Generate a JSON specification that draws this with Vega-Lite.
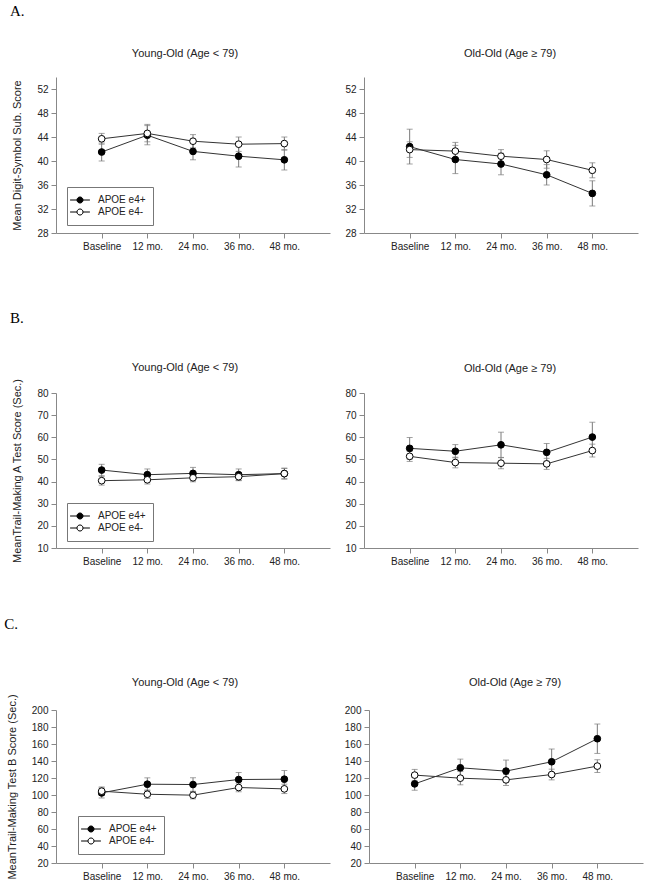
{
  "$schema": "https://vega.github.io/schema/vega-lite/v6.json",
  "background": "white",
  "padding": {"left": 4, "top": 4, "right": 4, "bottom": 4},
  "config": {
    "font": "Liberation Sans",
    "view": {"stroke": null},
    "axis": {"domainColor": "#888", "tickColor": "#888", "tickSize": 5, "labelFont": "Liberation Sans", "labelFontSize": 10, "labelColor": "#222", "titleFont": "Liberation Sans", "titleFontSize": 11, "titleFontWeight": "normal", "titleColor": "#222", "grid": false, "labelPadding": 3, "labelOverlap": false},
    "axisY": {"titlePadding": 14, "labelOverlap": false, "tickCount": 30},
    "axisX": {"labelAngle": 0, "title": null},
    "title": {"font": "Liberation Sans", "fontSize": 11, "fontWeight": "normal", "color": "#222", "offset": 18},
    "legend": {"labelFont": "Liberation Sans", "labelFontSize": 10, "labelColor": "#222"}
  },
  "datasets": {
    "dsA": [
      {"age": "young", "time": "Baseline", "group": "APOE e4+", "mean": 41.5, "lo": 40.0, "hi": 43.0},
      {"age": "young", "time": "12 mo.", "group": "APOE e4+", "mean": 44.3, "lo": 42.7, "hi": 45.9},
      {"age": "young", "time": "24 mo.", "group": "APOE e4+", "mean": 41.6, "lo": 40.2, "hi": 43.0},
      {"age": "young", "time": "36 mo.", "group": "APOE e4+", "mean": 40.8, "lo": 39.0, "hi": 42.6},
      {"age": "young", "time": "48 mo.", "group": "APOE e4+", "mean": 40.2, "lo": 38.5, "hi": 41.9},
      {"age": "young", "time": "Baseline", "group": "APOE e4-", "mean": 43.7, "lo": 42.8, "hi": 44.6},
      {"age": "young", "time": "12 mo.", "group": "APOE e4-", "mean": 44.6, "lo": 43.2, "hi": 46.1},
      {"age": "young", "time": "24 mo.", "group": "APOE e4-", "mean": 43.3, "lo": 42.2, "hi": 44.4},
      {"age": "young", "time": "36 mo.", "group": "APOE e4-", "mean": 42.8, "lo": 41.6, "hi": 44.0},
      {"age": "young", "time": "48 mo.", "group": "APOE e4-", "mean": 42.9, "lo": 41.8, "hi": 44.0},
      {"age": "old", "time": "Baseline", "group": "APOE e4+", "mean": 42.4, "lo": 39.5, "hi": 45.3},
      {"age": "old", "time": "12 mo.", "group": "APOE e4+", "mean": 40.25, "lo": 37.9, "hi": 42.6},
      {"age": "old", "time": "24 mo.", "group": "APOE e4+", "mean": 39.5, "lo": 37.7, "hi": 41.3},
      {"age": "old", "time": "36 mo.", "group": "APOE e4+", "mean": 37.7, "lo": 36.0, "hi": 39.4},
      {"age": "old", "time": "48 mo.", "group": "APOE e4+", "mean": 34.6, "lo": 32.5, "hi": 36.7},
      {"age": "old", "time": "Baseline", "group": "APOE e4-", "mean": 41.9, "lo": 40.6, "hi": 43.2},
      {"age": "old", "time": "12 mo.", "group": "APOE e4-", "mean": 41.65, "lo": 40.3, "hi": 43.1},
      {"age": "old", "time": "24 mo.", "group": "APOE e4-", "mean": 40.8, "lo": 39.7, "hi": 41.9},
      {"age": "old", "time": "36 mo.", "group": "APOE e4-", "mean": 40.25, "lo": 38.8, "hi": 41.7},
      {"age": "old", "time": "48 mo.", "group": "APOE e4-", "mean": 38.45, "lo": 37.2, "hi": 39.7}
    ],
    "dsB": [
      {"age": "young", "time": "Baseline", "group": "APOE e4+", "mean": 45.2, "lo": 42.6, "hi": 47.8},
      {"age": "young", "time": "12 mo.", "group": "APOE e4+", "mean": 43.1, "lo": 40.5, "hi": 45.7},
      {"age": "young", "time": "24 mo.", "group": "APOE e4+", "mean": 43.7, "lo": 41.0, "hi": 46.4},
      {"age": "young", "time": "36 mo.", "group": "APOE e4+", "mean": 43.1, "lo": 40.5, "hi": 45.7},
      {"age": "young", "time": "48 mo.", "group": "APOE e4+", "mean": 43.6, "lo": 41.1, "hi": 46.1},
      {"age": "young", "time": "Baseline", "group": "APOE e4-", "mean": 40.4, "lo": 38.4, "hi": 42.4},
      {"age": "young", "time": "12 mo.", "group": "APOE e4-", "mean": 40.8, "lo": 38.9, "hi": 42.7},
      {"age": "young", "time": "24 mo.", "group": "APOE e4-", "mean": 41.7, "lo": 39.9, "hi": 43.5},
      {"age": "young", "time": "36 mo.", "group": "APOE e4-", "mean": 42.2, "lo": 40.4, "hi": 44.0},
      {"age": "young", "time": "48 mo.", "group": "APOE e4-", "mean": 43.6, "lo": 41.3, "hi": 45.9},
      {"age": "old", "time": "Baseline", "group": "APOE e4+", "mean": 55.0, "lo": 50.1, "hi": 59.9},
      {"age": "old", "time": "12 mo.", "group": "APOE e4+", "mean": 53.7, "lo": 50.7, "hi": 56.7},
      {"age": "old", "time": "24 mo.", "group": "APOE e4+", "mean": 56.6, "lo": 50.9, "hi": 62.3},
      {"age": "old", "time": "36 mo.", "group": "APOE e4+", "mean": 53.2, "lo": 49.2, "hi": 57.2},
      {"age": "old", "time": "48 mo.", "group": "APOE e4+", "mean": 60.1, "lo": 53.4, "hi": 66.8},
      {"age": "old", "time": "Baseline", "group": "APOE e4-", "mean": 51.4, "lo": 49.1, "hi": 53.7},
      {"age": "old", "time": "12 mo.", "group": "APOE e4-", "mean": 48.6, "lo": 46.2, "hi": 51.0},
      {"age": "old", "time": "24 mo.", "group": "APOE e4-", "mean": 48.3, "lo": 45.8, "hi": 50.8},
      {"age": "old", "time": "36 mo.", "group": "APOE e4-", "mean": 48.0, "lo": 45.5, "hi": 50.5},
      {"age": "old", "time": "48 mo.", "group": "APOE e4-", "mean": 54.0, "lo": 51.1, "hi": 56.9}
    ],
    "dsC": [
      {"age": "young", "time": "Baseline", "group": "APOE e4+", "mean": 102.5, "lo": 96.5, "hi": 108.5},
      {"age": "young", "time": "12 mo.", "group": "APOE e4+", "mean": 112.7, "lo": 105.2, "hi": 120.2},
      {"age": "young", "time": "24 mo.", "group": "APOE e4+", "mean": 112.3, "lo": 104.3, "hi": 120.3},
      {"age": "young", "time": "36 mo.", "group": "APOE e4+", "mean": 118.2, "lo": 109.9, "hi": 126.5},
      {"age": "young", "time": "48 mo.", "group": "APOE e4+", "mean": 118.6, "lo": 108.4, "hi": 128.8},
      {"age": "young", "time": "Baseline", "group": "APOE e4-", "mean": 104.5, "lo": 99.5, "hi": 109.5},
      {"age": "young", "time": "12 mo.", "group": "APOE e4-", "mean": 100.9, "lo": 95.9, "hi": 105.9},
      {"age": "young", "time": "24 mo.", "group": "APOE e4-", "mean": 99.8, "lo": 95.4, "hi": 104.2},
      {"age": "young", "time": "36 mo.", "group": "APOE e4-", "mean": 108.8, "lo": 103.8, "hi": 113.8},
      {"age": "young", "time": "48 mo.", "group": "APOE e4-", "mean": 107.2, "lo": 101.7, "hi": 112.7},
      {"age": "old", "time": "Baseline", "group": "APOE e4+", "mean": 113.1, "lo": 105.6, "hi": 120.6},
      {"age": "old", "time": "12 mo.", "group": "APOE e4+", "mean": 132.0, "lo": 121.8, "hi": 142.2},
      {"age": "old", "time": "24 mo.", "group": "APOE e4+", "mean": 128.1, "lo": 115.1, "hi": 141.1},
      {"age": "old", "time": "36 mo.", "group": "APOE e4+", "mean": 139.1, "lo": 124.1, "hi": 154.1},
      {"age": "old", "time": "48 mo.", "group": "APOE e4+", "mean": 166.2, "lo": 148.9, "hi": 183.5},
      {"age": "old", "time": "Baseline", "group": "APOE e4-", "mean": 123.4, "lo": 116.7, "hi": 130.1},
      {"age": "old", "time": "12 mo.", "group": "APOE e4-", "mean": 119.8, "lo": 112.0, "hi": 127.6},
      {"age": "old", "time": "24 mo.", "group": "APOE e4-", "mean": 117.8, "lo": 111.2, "hi": 124.4},
      {"age": "old", "time": "36 mo.", "group": "APOE e4-", "mean": 124.1, "lo": 117.8, "hi": 130.4},
      {"age": "old", "time": "48 mo.", "group": "APOE e4-", "mean": 134.0, "lo": 126.5, "hi": 141.5}
    ]
  },
  "spacing": 50,
  "vconcat": [
    {
      "spacing": 59,
      "vconcat": [
        {
          "title": {"text": "A.", "anchor": "start", "font": "Liberation Serif", "fontSize": 15, "fontWeight": "normal", "color": "#000", "offset": 29, "dx": -2},
          "spacing": 14,
          "resolve": {"scale": {"fill": "independent"}, "legend": {"fill": "independent"}},
          "hconcat": [
            {
              "width": 274, "height": 156,
              "title": {"text": "Young-Old (Age < 79)", "offset": 18, "dx": -8},
              "data": {"name": "dsA"},
              "transform": [{"filter": "datum.age === 'young'"}],
              "encoding": {"x": {"field": "time", "type": "ordinal", "sort": ["Baseline", "12 mo.", "24 mo.", "36 mo.", "48 mo."], "scale": {"type": "point", "padding": 1}, "axis": {"title": null, "labelAngle": 0}}},
              "layer": [
                {"mark": {"type": "rule", "color": "#7a7a7a", "strokeWidth": 1}, "encoding": {"y": {"field": "lo", "type": "quantitative", "scale": {"domain": [28, 54], "nice": false, "zero": false}, "axis": {"values": [28, 32, 36, 40, 44, 48, 52], "tickCount": 30, "labelOverlap": false, "title": "Mean Digit-Symbol Sub. Score"}}, "y2": {"field": "hi"}}},
                {"mark": {"type": "tick", "size": 6, "thickness": 1, "color": "#7a7a7a"}, "encoding": {"y": {"field": "lo", "type": "quantitative"}}},
                {"mark": {"type": "tick", "size": 6, "thickness": 1, "color": "#7a7a7a"}, "encoding": {"y": {"field": "hi", "type": "quantitative"}}},
                {"mark": {"type": "line", "color": "#333", "strokeWidth": 1}, "encoding": {"y": {"field": "mean", "type": "quantitative"}, "detail": {"field": "group"}}},
                {"mark": {"type": "point", "shape": "circle", "filled": true, "stroke": "black", "strokeWidth": 1, "size": 45, "opacity": 1}, "encoding": {"y": {"field": "mean", "type": "quantitative"}, "fill": {"field": "group", "type": "nominal", "scale": {"domain": ["APOE e4+", "APOE e4-"], "range": ["black", "white"]}, "legend": {"title": null, "orient": "none", "legendX": 11, "legendY": 110, "symbolType": "M-1.8,0L-0.55,0M0.55,0L1.8,0M-0.55,0A0.55,0.55,0,1,1,0.55,0A0.55,0.55,0,1,1,-0.55,0", "symbolSize": 121, "symbolStrokeColor": "black", "symbolStrokeWidth": 1, "symbolOpacity": 1, "labelOffset": 12, "strokeColor": "#777", "padding": 7, "rowPadding": 0, "fillColor": "white"}}}}
              ]
            },
            {
              "width": 274, "height": 156,
              "title": {"text": "Old-Old (Age ≥ 79)", "offset": 18, "dx": 9},
              "data": {"name": "dsA"},
              "transform": [{"filter": "datum.age === 'old'"}],
              "encoding": {"x": {"field": "time", "type": "ordinal", "sort": ["Baseline", "12 mo.", "24 mo.", "36 mo.", "48 mo."], "scale": {"type": "point", "padding": 1}, "axis": {"title": null, "labelAngle": 0}}},
              "layer": [
                {"mark": {"type": "rule", "color": "#7a7a7a", "strokeWidth": 1}, "encoding": {"y": {"field": "lo", "type": "quantitative", "scale": {"domain": [28, 54], "nice": false, "zero": false}, "axis": {"values": [28, 32, 36, 40, 44, 48, 52], "tickCount": 30, "labelOverlap": false, "title": null}}, "y2": {"field": "hi"}}},
                {"mark": {"type": "tick", "size": 6, "thickness": 1, "color": "#7a7a7a"}, "encoding": {"y": {"field": "lo", "type": "quantitative"}}},
                {"mark": {"type": "tick", "size": 6, "thickness": 1, "color": "#7a7a7a"}, "encoding": {"y": {"field": "hi", "type": "quantitative"}}},
                {"mark": {"type": "line", "color": "#333", "strokeWidth": 1}, "encoding": {"y": {"field": "mean", "type": "quantitative"}, "detail": {"field": "group"}}},
                {"mark": {"type": "point", "shape": "circle", "filled": true, "stroke": "black", "strokeWidth": 1, "size": 45, "opacity": 1}, "encoding": {"y": {"field": "mean", "type": "quantitative"}, "fill": {"field": "group", "type": "nominal", "scale": {"domain": ["APOE e4+", "APOE e4-"], "range": ["black", "white"]}, "legend": null}}}
              ]
            }
          ]
        },
        {
          "title": {"text": "B.", "anchor": "start", "font": "Liberation Serif", "fontSize": 15, "fontWeight": "normal", "color": "#000", "offset": 36, "dx": -2},
          "spacing": 14,
          "resolve": {"scale": {"fill": "independent"}, "legend": {"fill": "independent"}},
          "hconcat": [
            {
              "width": 274, "height": 155,
              "title": {"text": "Young-Old (Age < 79)", "offset": 5, "dx": -8},
              "data": {"name": "dsB"},
              "transform": [{"filter": "datum.age === 'young'"}],
              "encoding": {"x": {"field": "time", "type": "ordinal", "sort": ["Baseline", "12 mo.", "24 mo.", "36 mo.", "48 mo."], "scale": {"type": "point", "padding": 1}, "axis": {"title": null, "labelAngle": 0}}},
              "layer": [
                {"mark": {"type": "rule", "color": "#7a7a7a", "strokeWidth": 1}, "encoding": {"y": {"field": "lo", "type": "quantitative", "scale": {"domain": [10, 80], "nice": false, "zero": false}, "axis": {"values": [10, 20, 30, 40, 50, 60, 70, 80], "tickCount": 30, "labelOverlap": false, "title": "MeanTrail-Making A Test Score (Sec.)"}}, "y2": {"field": "hi"}}},
                {"mark": {"type": "tick", "size": 6, "thickness": 1, "color": "#7a7a7a"}, "encoding": {"y": {"field": "lo", "type": "quantitative"}}},
                {"mark": {"type": "tick", "size": 6, "thickness": 1, "color": "#7a7a7a"}, "encoding": {"y": {"field": "hi", "type": "quantitative"}}},
                {"mark": {"type": "line", "color": "#333", "strokeWidth": 1}, "encoding": {"y": {"field": "mean", "type": "quantitative"}, "detail": {"field": "group"}}},
                {"mark": {"type": "point", "shape": "circle", "filled": true, "stroke": "black", "strokeWidth": 1, "size": 45, "opacity": 1}, "encoding": {"y": {"field": "mean", "type": "quantitative"}, "fill": {"field": "group", "type": "nominal", "scale": {"domain": ["APOE e4+", "APOE e4-"], "range": ["black", "white"]}, "legend": {"title": null, "orient": "none", "legendX": 11, "legendY": 110, "symbolType": "M-1.8,0L-0.55,0M0.55,0L1.8,0M-0.55,0A0.55,0.55,0,1,1,0.55,0A0.55,0.55,0,1,1,-0.55,0", "symbolSize": 121, "symbolStrokeColor": "black", "symbolStrokeWidth": 1, "symbolOpacity": 1, "labelOffset": 12, "strokeColor": "#777", "padding": 7, "rowPadding": 0, "fillColor": "white"}}}}
              ]
            },
            {
              "width": 274, "height": 155,
              "title": {"text": "Old-Old (Age ≥ 79)", "offset": 14, "dx": 9},
              "data": {"name": "dsB"},
              "transform": [{"filter": "datum.age === 'old'"}],
              "encoding": {"x": {"field": "time", "type": "ordinal", "sort": ["Baseline", "12 mo.", "24 mo.", "36 mo.", "48 mo."], "scale": {"type": "point", "padding": 1}, "axis": {"title": null, "labelAngle": 0}}},
              "layer": [
                {"mark": {"type": "rule", "color": "#7a7a7a", "strokeWidth": 1}, "encoding": {"y": {"field": "lo", "type": "quantitative", "scale": {"domain": [10, 80], "nice": false, "zero": false}, "axis": {"values": [10, 20, 30, 40, 50, 60, 70, 80], "tickCount": 30, "labelOverlap": false, "title": null}}, "y2": {"field": "hi"}}},
                {"mark": {"type": "tick", "size": 6, "thickness": 1, "color": "#7a7a7a"}, "encoding": {"y": {"field": "lo", "type": "quantitative"}}},
                {"mark": {"type": "tick", "size": 6, "thickness": 1, "color": "#7a7a7a"}, "encoding": {"y": {"field": "hi", "type": "quantitative"}}},
                {"mark": {"type": "line", "color": "#333", "strokeWidth": 1}, "encoding": {"y": {"field": "mean", "type": "quantitative"}, "detail": {"field": "group"}}},
                {"mark": {"type": "point", "shape": "circle", "filled": true, "stroke": "black", "strokeWidth": 1, "size": 45, "opacity": 1}, "encoding": {"y": {"field": "mean", "type": "quantitative"}, "fill": {"field": "group", "type": "nominal", "scale": {"domain": ["APOE e4+", "APOE e4-"], "range": ["black", "white"]}, "legend": null}}}
              ]
            }
          ]
        }
      ]
    },
    {
      "title": {"text": "C.", "anchor": "start", "font": "Liberation Serif", "fontSize": 15, "fontWeight": "normal", "color": "#000", "offset": 45, "dx": -2},
      "spacing": 14,
      "resolve": {"scale": {"fill": "independent"}, "legend": {"fill": "independent"}},
      "hconcat": [
        {
          "width": 274, "height": 153,
          "title": {"text": "Young-Old (Age < 79)", "offset": 6, "dx": -8},
          "data": {"name": "dsC"},
          "transform": [{"filter": "datum.age === 'young'"}],
          "encoding": {"x": {"field": "time", "type": "ordinal", "sort": ["Baseline", "12 mo.", "24 mo.", "36 mo.", "48 mo."], "scale": {"type": "point", "padding": 1}, "axis": {"title": null, "labelAngle": 0}}},
          "layer": [
            {"mark": {"type": "rule", "color": "#7a7a7a", "strokeWidth": 1}, "encoding": {"y": {"field": "lo", "type": "quantitative", "scale": {"domain": [20, 200], "nice": false, "zero": false}, "axis": {"values": [20, 40, 60, 80, 100, 120, 140, 160, 180, 200], "tickCount": 30, "labelOverlap": false, "title": "MeanTrail-Making Test B Score (Sec.)"}}, "y2": {"field": "hi"}}},
            {"mark": {"type": "tick", "size": 6, "thickness": 1, "color": "#7a7a7a"}, "encoding": {"y": {"field": "lo", "type": "quantitative"}}},
            {"mark": {"type": "tick", "size": 6, "thickness": 1, "color": "#7a7a7a"}, "encoding": {"y": {"field": "hi", "type": "quantitative"}}},
            {"mark": {"type": "line", "color": "#333", "strokeWidth": 1}, "encoding": {"y": {"field": "mean", "type": "quantitative"}, "detail": {"field": "group"}}},
            {"mark": {"type": "point", "shape": "circle", "filled": true, "stroke": "black", "strokeWidth": 1, "size": 45, "opacity": 1}, "encoding": {"y": {"field": "mean", "type": "quantitative"}, "fill": {"field": "group", "type": "nominal", "scale": {"domain": ["APOE e4+", "APOE e4-"], "range": ["black", "white"]}, "legend": {"title": null, "orient": "none", "legendX": 22, "legendY": 106, "symbolType": "M-1.8,0L-0.55,0M0.55,0L1.8,0M-0.55,0A0.55,0.55,0,1,1,0.55,0A0.55,0.55,0,1,1,-0.55,0", "symbolSize": 121, "symbolStrokeColor": "black", "symbolStrokeWidth": 1, "symbolOpacity": 1, "labelOffset": 12, "strokeColor": "#777", "padding": 7, "rowPadding": 0, "fillColor": "white"}}}}
          ]
        },
        {
          "width": 274, "height": 153,
          "title": {"text": "Old-Old (Age ≥ 79)", "offset": 17, "dx": 9},
          "data": {"name": "dsC"},
          "transform": [{"filter": "datum.age === 'old'"}],
          "encoding": {"x": {"field": "time", "type": "ordinal", "sort": ["Baseline", "12 mo.", "24 mo.", "36 mo.", "48 mo."], "scale": {"type": "point", "padding": 1}, "axis": {"title": null, "labelAngle": 0}}},
          "layer": [
            {"mark": {"type": "rule", "color": "#7a7a7a", "strokeWidth": 1}, "encoding": {"y": {"field": "lo", "type": "quantitative", "scale": {"domain": [20, 200], "nice": false, "zero": false}, "axis": {"values": [20, 40, 60, 80, 100, 120, 140, 160, 180, 200], "tickCount": 30, "labelOverlap": false, "title": null}}, "y2": {"field": "hi"}}},
            {"mark": {"type": "tick", "size": 6, "thickness": 1, "color": "#7a7a7a"}, "encoding": {"y": {"field": "lo", "type": "quantitative"}}},
            {"mark": {"type": "tick", "size": 6, "thickness": 1, "color": "#7a7a7a"}, "encoding": {"y": {"field": "hi", "type": "quantitative"}}},
            {"mark": {"type": "line", "color": "#333", "strokeWidth": 1}, "encoding": {"y": {"field": "mean", "type": "quantitative"}, "detail": {"field": "group"}}},
            {"mark": {"type": "point", "shape": "circle", "filled": true, "stroke": "black", "strokeWidth": 1, "size": 45, "opacity": 1}, "encoding": {"y": {"field": "mean", "type": "quantitative"}, "fill": {"field": "group", "type": "nominal", "scale": {"domain": ["APOE e4+", "APOE e4-"], "range": ["black", "white"]}, "legend": null}}}
          ]
        }
      ]
    }
  ]
}
